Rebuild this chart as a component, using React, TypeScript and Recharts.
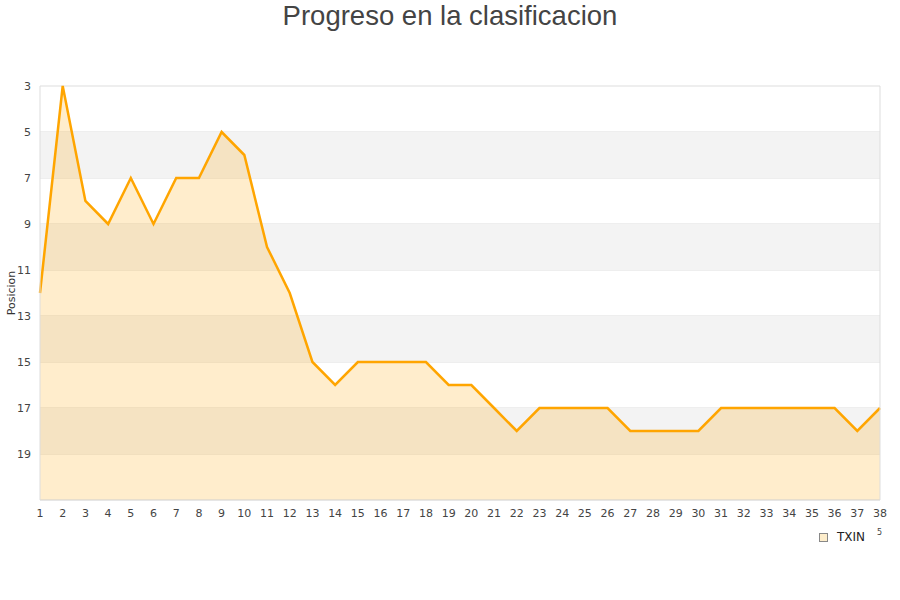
import React from 'react';
import {
  AreaChart, Area, XAxis, YAxis, CartesianGrid, ReferenceArea, ReferenceLine
} from 'recharts';

const jornadas = [1, 2, 3, 4, 5, 6, 7, 8, 9, 10, 11, 12, 13, 14, 15, 16, 17, 18, 19, 20,
  21, 22, 23, 24, 25, 26, 27, 28, 29, 30, 31, 32, 33, 34, 35, 36, 37, 38];

const posiciones = [12, 3, 8, 9, 7, 9, 7, 7, 5, 6, 10, 12, 15, 16, 15, 15, 15, 15, 16, 16,
  17, 18, 17, 17, 17, 17, 18, 18, 18, 18, 17, 17, 17, 17, 17, 17, 18, 17];

const yTicks = [3, 5, 7, 9, 11, 13, 15, 17, 19];
const bandas = [[5, 7], [9, 11], [13, 15], [17, 19]];

const data = jornadas.map((j, i) => ({ jornada: j, TXIN: posiciones[i] }));

const tickStyle = { fontSize: 11, fill: '#444', fontFamily: 'DejaVu Sans' };

export default function App() {
  return (
    <div style={{ position: 'absolute', left: 0, top: 0, width: 900, height: 600, background: '#fff' }}>
      <div style={{
        position: 'absolute', top: 0, width: 900, textAlign: 'center',
        fontFamily: 'Liberation Sans', fontSize: 27.5, color: '#444', lineHeight: '32px'
      }}>
        Progreso en la clasificacion
      </div>
      <AreaChart width={900} height={600} data={data} margin={{ top: 86, right: 20, bottom: 80, left: 10 }}>
        {bandas.map(([a, b]) => (
          <ReferenceArea key={a} y1={a} y2={b} fill="#f3f3f3" fillOpacity={1} stroke="none" ifOverflow="visible" />
        ))}
        <CartesianGrid vertical={false} stroke="#dddddd" />
        <ReferenceLine x={38} stroke="#dddddd" />
        <XAxis
          dataKey="jornada"
          type="number"
          domain={[1, 38]}
          ticks={jornadas}
          interval={0}
          height={20}
          tickLine={false}
          tickSize={0}
          tickMargin={9}
          axisLine={{ stroke: '#dddddd' }}
          tick={tickStyle}
        />
        <YAxis
          reversed
          domain={[3, 21]}
          ticks={yTicks}
          interval={0}
          width={30}
          tickLine={false}
          tickSize={0}
          tickMargin={9}
          axisLine={{ stroke: '#dddddd' }}
          tick={tickStyle}
          label={{ value: 'Posicion', angle: -90, position: 'insideLeft', offset: 1, style: { fontSize: 11, fill: '#333', fontFamily: 'DejaVu Sans', textAnchor: 'middle' } }}
        />
        <Area
          type="linear"
          dataKey="TXIN"
          name="TXIN"
          baseValue={21}
          stroke="#ffa500"
          strokeWidth={2.5}
          fill="#ffa500"
          fillOpacity={0.2}
          dot={false}
          activeDot={false}
          isAnimationActive={false}
        />
      </AreaChart>
      <div style={{
        position: 'absolute', left: 819, top: 530, display: 'flex', alignItems: 'center',
        fontFamily: 'DejaVu Sans', fontSize: 12, color: '#222'
      }}>
        <span style={{ width: 7, height: 7, background: '#fdedcb', border: '1px solid #888', marginRight: 9 }} />
        <span>TXIN</span>
        <span style={{ fontSize: 8, marginLeft: 12, marginTop: -10, color: '#444' }}>5</span>
      </div>
    </div>
  );
}
